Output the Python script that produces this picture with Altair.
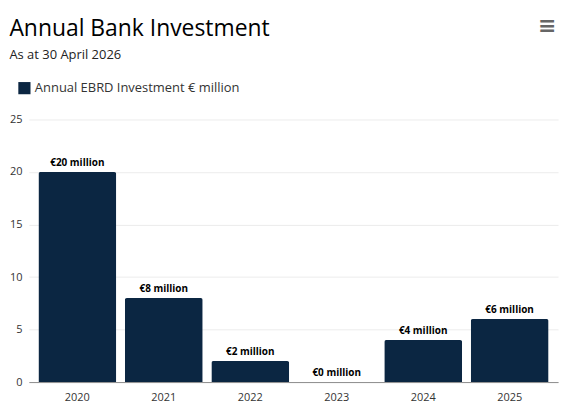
import altair as alt
import pandas as pd

years = ["2020", "2021", "2022", "2023", "2024", "2025"]
values = [20, 8, 2, 0, 4, 6]
series_name = "Annual EBRD Investment € million"
y_ticks = [0, 5, 10, 15, 20, 25]

df = pd.DataFrame({
    "year": years,
    "value": values,
    "series": [series_name] * len(years),
    "label": [f"€{v} million" for v in values],
})

FONT = "Open Sans"
BAR = "#0b2642"

x_enc = alt.X("year:N", sort=years, title=None,
              scale=alt.Scale(paddingInner=0.1, paddingOuter=0.11),
              axis=alt.Axis(labelAngle=0, ticks=False, domainColor="#8c8c8c",
                            domainWidth=1, labelFontSize=11, labelColor="#333333",
                            labelPadding=10, grid=False, labelFont=FONT))
y_enc = alt.Y("value:Q", title=None,
              scale=alt.Scale(domain=[0, 25], nice=False),
              axis=alt.Axis(values=y_ticks, ticks=False, domain=False,
                            gridColor="#ececec", labelFontSize=11,
                            labelColor="#333333", labelPadding=7, labelFont=FONT))

bars = alt.Chart(df).mark_bar(cornerRadiusTopLeft=2, cornerRadiusTopRight=2).encode(
    x=x_enc,
    y=y_enc,
    color=alt.Color("series:N", scale=alt.Scale(range=[BAR]),
                    legend=alt.Legend(title=None, orient="none", legendX=-11, legendY=-38,
                                      symbolType="square", symbolSize=150,
                                      symbolStrokeWidth=0, labelFontSize=13,
                                      labelColor="#333333", labelFont=FONT,
                                      labelLimit=400, symbolOffset=0)),
)

labels = alt.Chart(df).mark_text(dy=-9, fontSize=10, fontWeight="bold",
                                 color="#000000", font=FONT).encode(
    x=alt.X("year:N", sort=years),
    y=alt.Y("value:Q"),
    text="label:N",
)

menu = alt.Chart(pd.DataFrame({"t": ["≡"]})).mark_text(
    fontSize=22, fontWeight="bold", color="#666666", font="DejaVu Sans").encode(
    x=alt.value(521), y=alt.value(-94), text="t:N")

chart = alt.layer(bars, labels, menu).properties(
    width=532, height=264,
    background="white",
    autosize=alt.AutoSizeParams(type="none"),
    padding={"left": 21, "top": 111, "right": 10, "bottom": 28},
    title=alt.TitleParams(
        text="Annual Bank Investment",
        subtitle="As at 30 April 2026",
        anchor="start", frame="bounds",
        font=FONT, fontSize=23, fontWeight="normal", color="#000000",
        subtitleFont=FONT, subtitleFontSize=13, subtitleColor="#222222",
        subtitlePadding=8, offset=0, dy=47,
    ),
).configure_view(stroke="transparent", strokeWidth=0)

chart.save("out.html", embed_options={"renderer": "svg", "actions": False})
